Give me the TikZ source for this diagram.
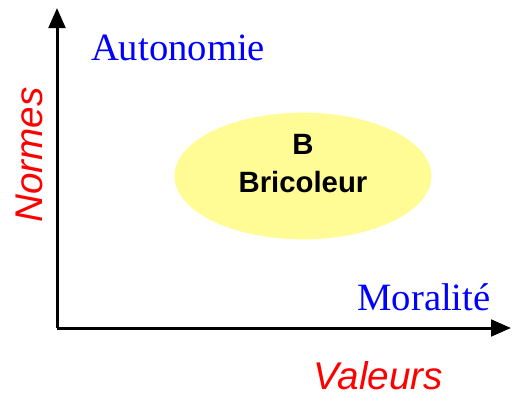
\documentclass[tikz,border=0pt]{standalone}
\usepackage{fontspec}
\setmainfont{Liberation Serif}
\setsansfont{Liberation Sans}
\usetikzlibrary{arrows.meta, shapes.geometric, positioning}
\definecolor{ellYellow}{RGB}{255,252,150}

\begin{document}
\begin{tikzpicture}[x=0.75pt, y=-0.75pt,
    axis/.style={line width=2.25pt, -{Triangle[length=15pt, width=12.5pt]}},
    pole/.style={text=blue, font=\fontsize{29}{30}\selectfont, inner sep=0pt},
    axlabel/.style={text=red, font=\sffamily\itshape\fontsize{29}{30}\selectfont, inner sep=0pt}]
    \useasboundingbox (0,0) rectangle (512,394);

    \coordinate (orig) at (57,328);
    \coordinate (ytop) at (57,8);
    \coordinate (xend) at (511,328);
    \draw[axis] (orig)--(ytop);
    \draw[axis] (orig)--(xend);

    \node[pole] (auto) at (178,48) {Autonomie};
    \node[pole] (moral) at (424,297) {Moralité};
    \node[axlabel, rotate=90] (normes) at (29,155) {Normes};
    \node[axlabel] (valeurs) at (378,376) {Valeurs};

    \node[ellipse, fill=ellYellow, minimum width=192.75pt, minimum height=95pt] (bric) at (303,176) {};
    \node[align=center, font=\sffamily\bfseries\fontsize{22}{28.5}\selectfont] (bricText) at (303,164) {B\\Bricoleur};
\end{tikzpicture}
\end{document}
